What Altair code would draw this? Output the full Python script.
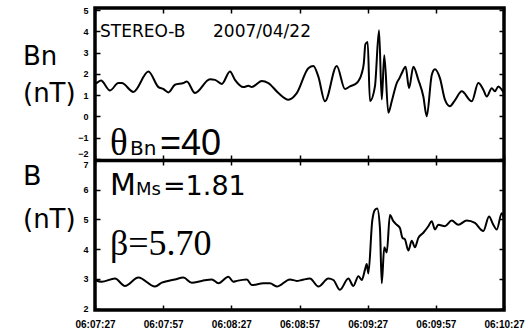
import altair as alt
import pandas as pd

# ---- data ----
tick_secs = [0, 30, 60, 90, 120, 150, 180]
tick_labels = ["06:07:27", "06:07:57", "06:08:27", "06:08:57", "06:09:27", "06:09:57", "06:10:27"]

bn_ticks = [-2, -1, 0, 1, 2, 3, 4, 5]
b_ticks = [2, 3, 4, 5, 6, 7]

# seconds after 06:07:27
bn_t = [0, 0.7, 2.6, 6.6, 10.3, 11.8, 16.9, 23.5, 27.9, 30.1, 32.3, 35.2, 38.9, 40.4, 44.0,
        50.6, 52.8, 55.8, 59.4, 61.6, 65.3, 67.5, 69.0, 73.4, 76.3, 80.7, 85.1, 88.8, 93.9,
        96.1, 98.3, 101.2, 106.4, 110.0, 112.2, 115.2, 117.4, 118.3, 119.0, 120.0, 121.0,
        123.2, 125.0, 126.2, 127.3, 129.1, 130.6, 132.8, 134.0, 135.0, 136.7, 138.2, 140.1,
        142.3, 144.5, 146.0, 148.2, 149.6, 151.8, 154.0, 156.2, 158.4, 161.4, 165.8, 168.7,
        170.9, 172.4, 174.6, 176.0, 177.5, 179.0, 180.0]
bn_v = [1.55, 1.57, 1.69, 1.22, 1.57, 1.57, 1.15, 2.11, 1.38, 1.29, 1.13, 1.49, 1.57, 1.64, 1.10,
        1.75, 1.72, 1.53, 2.11, 1.72, 1.38, 1.44, 1.38, 1.67, 1.57, 1.10, 0.79, 1.10, 2.27,
        2.37, 1.87, 0.71, 2.37, 1.29, 1.41, 1.57, 2.03, 2.50, 3.40, 3.50, 0.72,
        1.41, 4.05, 0.79, 2.88, 0.17, 0.71, 1.57, 1.80, 2.03, 2.34, 1.33, 2.34,
        1.72, 0.94, 0.01, 1.95, 2.22, 1.80, 0.79, 0.48, 0.76, 1.18, 0.71, 1.57,
        1.26, 0.94, 1.33, 1.18, 1.41, 1.26, 1.10]

b_t = [0, 2.9, 8.8, 13.2, 19.1, 26.4, 29.4, 35.2, 38.9, 42.6, 47.0, 51.4, 54.3, 58.7, 60.9,
       62.4, 66.8, 69.0, 74.1, 77.0, 80.0, 85.8, 88.8, 91.0, 94.6, 98.3, 102.7, 104.9, 107.8,
       111.5, 113.7, 115.9, 117.4, 118.8, 119.6, 120.3, 122.0, 123.2, 124.2, 125.4, 126.2,
       127.3, 128.4, 129.8, 131.3, 132.8, 134.2, 135.3, 136.4, 137.9, 139.4, 140.8, 142.3,
       144.5, 146.7, 148.2, 149.6, 151.1, 154.0, 157.0, 159.9, 163.6, 167.2, 170.9, 173.4,
       175.3, 176.8, 179.0, 180.0]
b_v = [2.96, 2.90, 3.01, 2.76, 3.04, 2.74, 2.87, 2.98, 3.04, 2.87, 2.93, 2.98, 2.85, 3.07, 2.90,
       2.93, 2.98, 2.79, 2.85, 2.85, 2.74, 2.98, 2.93, 2.96, 3.01, 2.74, 3.01, 2.96, 2.63,
       3.01, 2.76, 3.09, 2.96, 3.30, 3.50, 3.18, 4.94, 5.32, 5.37, 4.71, 2.85,
       4.06, 3.89, 5.15, 4.94, 4.82, 4.71, 4.38, 4.33, 3.95, 4.28, 4.06, 4.38,
       4.55, 4.77, 4.94, 4.66, 4.82, 4.77, 4.96, 4.82, 4.96, 4.88, 4.61, 5.10,
       4.82, 4.66, 5.21, 5.0]

df_bn = pd.DataFrame({"t": bn_t, "v": bn_v})
df_b = pd.DataFrame({"t": b_t, "v": b_v})

W, H, TOP = 409, 302, 152
FRAME = 3.5

xscale = alt.Scale(domain=[0, 180], nice=False, zero=False)
yscale_top = alt.Scale(domain=[-2.05, 5.1], range=[TOP, 0], nice=False, zero=False)
yscale_bot = alt.Scale(domain=[1.95, 7], range=[H, TOP], nice=False, zero=False)

label_expr = "[" + ",".join("'%s'" % s for s in tick_labels) + "][round(datum.value/30)]"


def xaxis(orient, offset, labels=False, domain=False):
    kw = dict(orient=orient, offset=offset, values=tick_secs, tickSize=5, tickWidth=1.5,
              tickColor="black", grid=False, labels=labels, title=None, domain=domain)
    if domain:
        kw.update(domainColor="black", domainWidth=FRAME)
    if labels:
        kw.update(labelExpr=label_expr, labelFont="Liberation Sans", labelFontWeight="bold",
                  labelFontSize=10, labelColor="black", labelPadding=9, labelFlush=False,
                  labelOverlap=False)
    return alt.Axis(**kw)


def yaxis(orient, values, labels=False, edge_value=None, edge_baseline=None):
    kw = dict(orient=orient, offset=-5, values=values, tickSize=5, tickWidth=1.5,
              tickColor="black", grid=False, labels=labels, title=None, domain=False)
    if labels:
        kw.update(labelFont="Liberation Sans", labelFontWeight="bold", labelFontSize=9,
                  labelColor="black", labelPadding=7, labelOverlap=False, labelFlush=False,
                  labelBound=False)
        if edge_value is not None:
            kw["labelBaseline"] = {
                "condition": {"test": "datum.value == %s" % edge_value, "value": edge_baseline},
                "value": "middle",
            }
    return alt.Axis(**kw)


def line(df, yscale, xax, yax, visible=True):
    return alt.Chart(df).mark_line(color="black", strokeWidth=2, interpolate="monotone",
                                   opacity=1 if visible else 0).encode(
        x=alt.X("t:Q", scale=xscale, axis=xax),
        y=alt.Y("v:Q", scale=yscale, axis=yax),
    )


l1 = line(df_bn, yscale_top, xaxis("top", -5),
          yaxis("left", bn_ticks, labels=True, edge_value=-2, edge_baseline="bottom"))
l2 = line(df_bn, yscale_top, xaxis("top", -TOP, domain=True), yaxis("right", bn_ticks), visible=False)
l3 = line(df_b, yscale_bot, xaxis("bottom", -(H - TOP)),
          yaxis("left", b_ticks, labels=True, edge_value=7, edge_baseline="top"))
l4 = line(df_b, yscale_bot, xaxis("bottom", -5, labels=True), yaxis("right", b_ticks), visible=False)


def txt(s, x, y, size, font="DejaVu Sans"):
    return alt.Chart(pd.DataFrame({"s": [s]})).mark_text(
        align="left", baseline="alphabetic", font=font, fontSize=size, color="black"
    ).encode(text="s:N", x=alt.value(x), y=alt.value(y))


texts = [
    txt("Bn", -72, 57, 26),
    txt("(nT)", -72, 94, 26),
    txt("B", -72, 177, 27),
    txt("(nT)", -72, 220, 26),
    txt("STEREO-B", 5, 29, 17),
    txt("2007/04/22", 118, 29, 17),
    txt("θ", 15, 147, 37, "Liberation Serif"),
    txt("Bn", 35, 147, 20),
    txt("=40", 65, 147, 36, "Liberation Sans"),
    txt("M", 15, 187, 30),
    txt("Ms", 41, 187, 18),
    txt("=1.81", 68, 187, 27),
    txt("β=5.70", 15, 247, 36, "Liberation Serif"),
]

chart = alt.layer(l1, l2, l3, l4, *texts).resolve_scale(
    y="independent", x="shared"
).resolve_axis(
    y="independent", x="independent"
).properties(
    width=W, height=H,
    padding={"left": 95, "top": 8, "right": 24, "bottom": 20},
    autosize=alt.AutoSizeParams(type="none"),
    background="white",
).configure_view(stroke="black", strokeWidth=FRAME)

chart.save("out.html", embed_options={"renderer": "svg", "actions": False})
